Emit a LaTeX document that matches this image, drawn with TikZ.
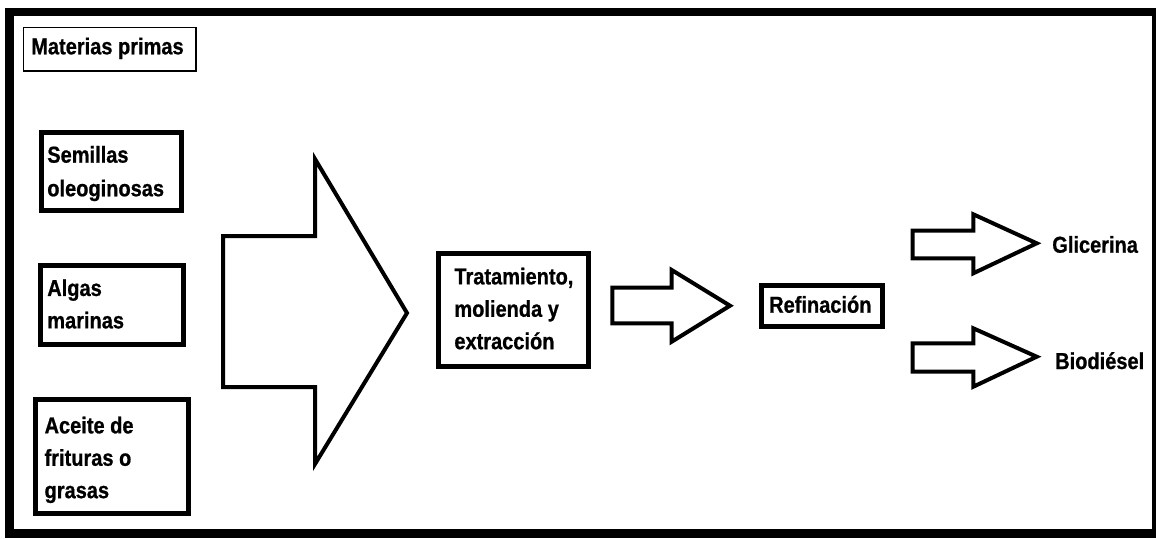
\documentclass[tikz,border=0pt]{standalone}
\usepackage{fontspec}
\newfontfamily\lbl{Liberation Sans}[FakeStretch=0.87, FakeBold=0.8]
\begin{document}
\begin{tikzpicture}[x=1pt,y=-1pt,
  lbltext/.style={inner sep=0pt, outer sep=0pt, align=left,
    font={\lbl\bfseries\fontsize{23}{32.4}\selectfont}},
  thinbox/.style={draw, line width=1.5pt, inner sep=0pt, outer sep=0pt, anchor=north west},
  thickbox/.style={draw, line width=5pt, inner sep=0pt, outer sep=0pt, anchor=north west},
  blockarrow/.style={draw, line width=4pt, line join=miter, fill=white}]
\useasboundingbox (0,0) rectangle (1156,538);
\fill[white] (0,0) rectangle (1156,538);
% outer frame
\draw[line width=8.5pt] (9.5,12) rectangle (1156.5,533.5);

% heading
\node[thinbox, minimum width=172.5pt, minimum height=43.5pt] (head) at (23.5,27.5) {};
\node[lbltext, anchor=base west] (headtxt) at (31.3,54.3) {Materias primas};

% raw materials
\node[thickbox, minimum width=140pt, minimum height=78.3pt] (sem) at (41.8,132.5) {};
\node[lbltext, anchor=north west] (semtxt) at (47.3,146) {Semillas\\[1.2pt]oleoginosas};

\node[thickbox, minimum width=143.3pt, minimum height=79pt] (alg) at (40.2,265.2) {};
\node[lbltext, anchor=north west] (algtxt) at (47.3,279.3) {Algas\\marinas};

\node[thickbox, minimum width=152.7pt, minimum height=114pt] (ace) at (35.8,399.2) {};
\node[lbltext, anchor=north west] (acetxt) at (44.6,416.7) {Aceite de\\frituras o\\grasas};

% big arrow
\draw[blockarrow] (223,236) -- (315,236) -- (315,159) -- (407,313)
  -- (315,464) -- (315,387) -- (223,387) -- cycle;

% processing
\node[thickbox, minimum width=149.5pt, minimum height=112.5pt] (tra) at (438.5,253.5) {};
\node[lbltext, anchor=north west] (tratxt) at (454.4,267.7) {Tratamiento,\\molienda y\\extracción};

\draw[blockarrow] (612.3,287.7) -- (671.7,287.7) -- (671.7,270) -- (730,305.7)
  -- (671.7,341.7) -- (671.7,323.3) -- (612.3,323.3) -- cycle;

\node[thickbox, minimum width=121.5pt, minimum height=40.5pt] (ref) at (761.3,285.8) {};
\node[lbltext, anchor=base west] (reftxt) at (769.2,312.7) {Refinación};

% products
\draw[blockarrow] (912.7,230.7) -- (973.3,230.7) -- (973.3,214.3) -- (1036.7,243.3)
  -- (973.3,273.3) -- (973.3,258.3) -- (912.7,258.3) -- cycle;
\draw[blockarrow] (912.7,343.3) -- (973.3,343.3) -- (973.3,328.3) -- (1036.7,356.7)
  -- (973.3,386.7) -- (973.3,371.7) -- (912.7,371.7) -- cycle;

\node[lbltext, anchor=base west] (gli) at (1052.3,252.7) {Glicerina};
\node[lbltext, anchor=base west] (bio) at (1055.2,369) {Biodiésel};
\end{tikzpicture}
\end{document}
